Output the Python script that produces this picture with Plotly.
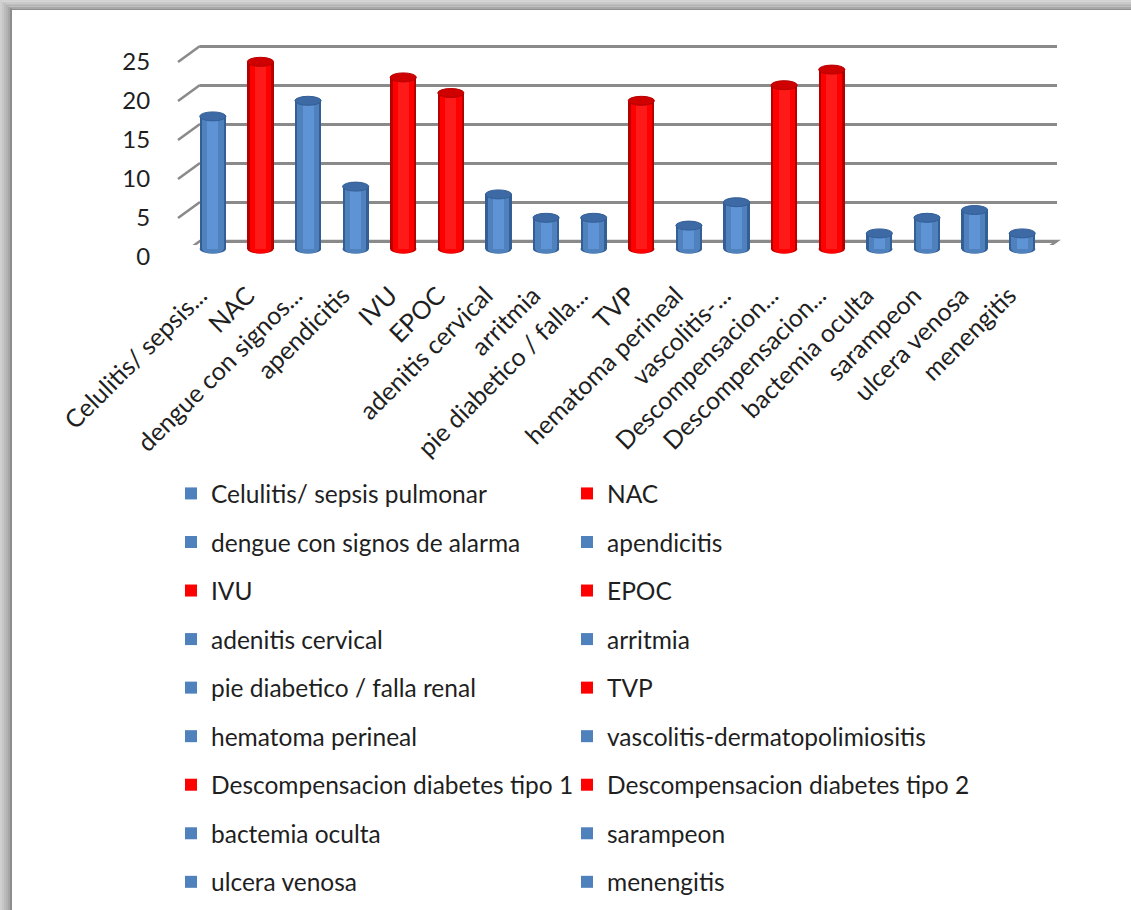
import plotly.graph_objects as go

# ---- data -------------------------------------------------------------
categories = [
    "Celulitis/ sepsis pulmonar", "NAC", "dengue con signos de alarma",
    "apendicitis", "IVU", "EPOC", "adenitis cervical", "arritmia",
    "pie diabetico / falla renal", "TVP", "hematoma perineal",
    "vascolitis-dermatopolimiositis", "Descompensacion diabetes tipo 1",
    "Descompensacion diabetes tipo 2", "bactemia oculta", "sarampeon",
    "ulcera venosa", "menengitis",
]
axis_labels = [
    "Celulitis/ sepsis...", "NAC", "dengue con signos...", "apendicitis",
    "IVU", "EPOC", "adenitis cervical", "arritmia", "pie diabetico / falla...",
    "TVP", "hematoma perineal", "vascolitis-...", "Descompensacion...",
    "Descompensacion...", "bactemia oculta", "sarampeon", "ulcera venosa",
    "menengitis",
]
cases = [17, 24, 19, 8, 22, 20, 7, 4, 4, 19, 3, 6, 21, 23, 2, 4, 5, 2]
colour_key = ["blue", "red", "blue", "blue", "red", "red", "blue", "blue",
              "blue", "red", "blue", "blue", "red", "red", "blue", "blue",
              "blue", "blue"]
y_ticks = [0, 5, 10, 15, 20, 25]

# ---- styling ----------------------------------------------------------
FIG_W, FIG_H = 1131, 910
FONT = "Lato"
TEXT_COLOR = "#1f1f1f"
GRID_COLOR = "#8a8a8a"

PALETTE = {
    "blue": dict(edge="#335e96", body="#4f81bd", light="#5e93d6", top="#3d6aa5"),
    "red": dict(edge="#b50000", body="#ff0000", light="#ff1a1a", top="#cf0000"),
}

PX_PER_UNIT = 7.8          # vertical scale shared by all three planes
Y_TOP = 26.5
BACK_LEFT, BACK_RIGHT, BACK_BASE = 200, 1057, 241   # back wall (pixels)
DEPTH_DX, DEPTH_DY = 22, 16                          # front plane offset
BAR_WIDTH = 0.55


def fx(px):
    return px / FIG_W


def fy(py):
    return 1 - py / FIG_H


def plane(shift):
    """Axis extents for a plane pushed `shift` (0..1) towards the viewer."""
    left = BACK_LEFT - DEPTH_DX * shift
    right = BACK_RIGHT - DEPTH_DX * shift
    base = BACK_BASE + DEPTH_DY * shift
    return left, right, base


def y_domain(base, lo, hi):
    return [fy(base - lo * PX_PER_UNIT), fy(base - hi * PX_PER_UNIT)]


fig = go.Figure()

# empty traces so the back and front subplots exist
fig.add_trace(go.Scatter(x=[None], y=[None], xaxis="x", yaxis="y",
                         showlegend=False, hoverinfo="skip"))
fig.add_trace(go.Scatter(x=[None], y=[None], xaxis="x3", yaxis="y3",
                         showlegend=False, hoverinfo="skip"))

# cylinders: stacked layers of narrowing bars give the rounded shading
layers = [("edge", 1.0), ("body", 0.82), ("light", 0.42)]
for name_layer, frac in layers:
    for i, (cat, val, key) in enumerate(zip(categories, cases, colour_key)):
        fig.add_trace(go.Bar(
            x=[cat], y=[val], width=[BAR_WIDTH * frac],
            marker=dict(color=PALETTE[key][name_layer], line=dict(width=0),
                        opacity=1),
            xaxis="x2", yaxis="y2",
            name=cat, legendgroup=cat,
            legend="legend" if i % 2 == 0 else "legend2",
            showlegend=(name_layer == "body"),
            hoverinfo="x+y",
        ))

shapes = []

# bottom and top caps of each cylinder
for i, (val, key) in enumerate(zip(cases, colour_key)):
    pal = PALETTE[key]
    for frac, col in [(1.0, pal["edge"]), (0.82, pal["body"])]:
        shapes.append(dict(
            type="circle", xref="x2", yref="y2", ysizemode="pixel",
            yanchor=0, y0=-4.5, y1=4.5,
            x0=i - BAR_WIDTH * frac / 2, x1=i + BAR_WIDTH * frac / 2,
            fillcolor=col, line=dict(width=0), layer="below"))
    shapes.append(dict(
        type="circle", xref="x2", yref="y2", ysizemode="pixel",
        yanchor=val, y0=-4.5, y1=4.5,
        x0=i - BAR_WIDTH / 2, x1=i + BAR_WIDTH / 2,
        fillcolor=pal["top"], line=dict(width=1, color=pal["edge"]),
        layer="above"))

front_l, front_r, front_base = plane(1)

# floor of the 3-D box
floor_path = (f"M{fx(BACK_LEFT)},0 L{fx(BACK_RIGHT)},0 "
              f"L{fx(front_r)},{-DEPTH_DY} L{fx(front_l)},{-DEPTH_DY} Z")
shapes.append(dict(type="path", xref="paper", yref="y", ysizemode="pixel",
                   yanchor=0, path=floor_path, fillcolor="white",
                   line=dict(color=GRID_COLOR, width=2.5), layer="below"))

# slanted tick marks joining the value axis to the back wall
for v in y_ticks[1:]:
    shapes.append(dict(type="line", xref="paper", yref="y", ysizemode="pixel",
                       yanchor=v, x0=fx(front_l), x1=fx(BACK_LEFT),
                       y0=-DEPTH_DY, y1=0,
                       line=dict(color=GRID_COLOR, width=2.5), layer="below"))

# picture frame: grey bands along the top and left edges
top_steps = ["#d2d2d2", "#c8c8c8", "#bebebe", "#b4b4b4", "#a8a8a8", "#8f8f8f"]
for k, col in enumerate(top_steps):
    y_hi = 10 * k / len(top_steps)
    y_lo = 10 * (k + 1) / len(top_steps)
    shapes.append(dict(type="rect", xref="paper", yref="paper",
                       x0=0, x1=1, y0=fy(y_lo), y1=fy(y_hi),
                       fillcolor=col, line=dict(width=0), layer="above"))
left_steps = ["#d0d0d0", "#c6c6c6", "#bcbcbc", "#b2b2b2", "#a6a6a6", "#8c8c8c"]
for k, col in enumerate(left_steps):
    shapes.append(dict(type="rect", xref="paper", yref="paper",
                       x0=fx(12 * k / len(left_steps)),
                       x1=fx(12 * (k + 1) / len(left_steps)),
                       y0=0, y1=fy(10 * k / len(left_steps)),
                       fillcolor=col, line=dict(width=0), layer="above"))

back_l, back_r, back_base = plane(0)
mid_l, mid_r, mid_base = plane(0.5)

legend_common = dict(
    xanchor="left", yanchor="top", orientation="v",
    font=dict(family=FONT, size=24.5, color=TEXT_COLOR),
    bgcolor="rgba(0,0,0,0)", tracegroupgap=13.7, traceorder="grouped",
)

fig.update_layout(
    width=FIG_W, height=FIG_H,
    margin=dict(l=0, r=0, t=0, b=0, autoexpand=False),
    paper_bgcolor="white", plot_bgcolor="rgba(0,0,0,0)",
    barmode="overlay", bargap=0,
    font=dict(family=FONT, color=TEXT_COLOR),
    # back wall with the horizontal gridlines
    xaxis=dict(domain=[fx(back_l), fx(back_r)], range=[-0.5, 17.5],
               visible=False, anchor="y"),
    yaxis=dict(domain=y_domain(back_base, -0.5, Y_TOP), range=[-0.5, Y_TOP],
               tickvals=y_ticks, showticklabels=False, ticks="",
               showgrid=True, gridcolor=GRID_COLOR, gridwidth=2.5,
               zeroline=False, showline=False, anchor="x"),
    # middle plane holding the cylinders
    xaxis2=dict(domain=[fx(mid_l), fx(mid_r)], range=[-0.5, 17.5],
                type="category", visible=False, anchor="y2"),
    yaxis2=dict(domain=y_domain(mid_base, -1, Y_TOP), range=[-1, Y_TOP],
                visible=False, anchor="x2"),
    # front plane carrying the tick labels
    xaxis3=dict(domain=[fx(front_l), fx(front_r)], range=[-0.5, 17.5],
                tickmode="array", tickvals=list(range(len(axis_labels))),
                ticktext=axis_labels, tickangle=-45,
                ticks="outside", ticklen=13, tickcolor="rgba(0,0,0,0)",
                ticklabelshift=-2,
                tickfont=dict(family=FONT, size=25, color=TEXT_COLOR),
                showgrid=False, zeroline=False, showline=False, anchor="y3",
                automargin=False),
    yaxis3=dict(domain=y_domain(front_base, 0, Y_TOP), range=[0, Y_TOP],
                tickvals=y_ticks, ticks="outside", ticklen=22,
                tickcolor="rgba(0,0,0,0)",
                tickfont=dict(family=FONT, size=24, color=TEXT_COLOR),
                showgrid=False, zeroline=False, showline=False, anchor="x3",
                automargin=False),
    legend=dict(x=fx(171), y=fy(471), **legend_common),
    legend2=dict(x=fx(567), y=fy(471), **legend_common),
    shapes=shapes,
    showlegend=True,
)

fig.write_html("out.html")
